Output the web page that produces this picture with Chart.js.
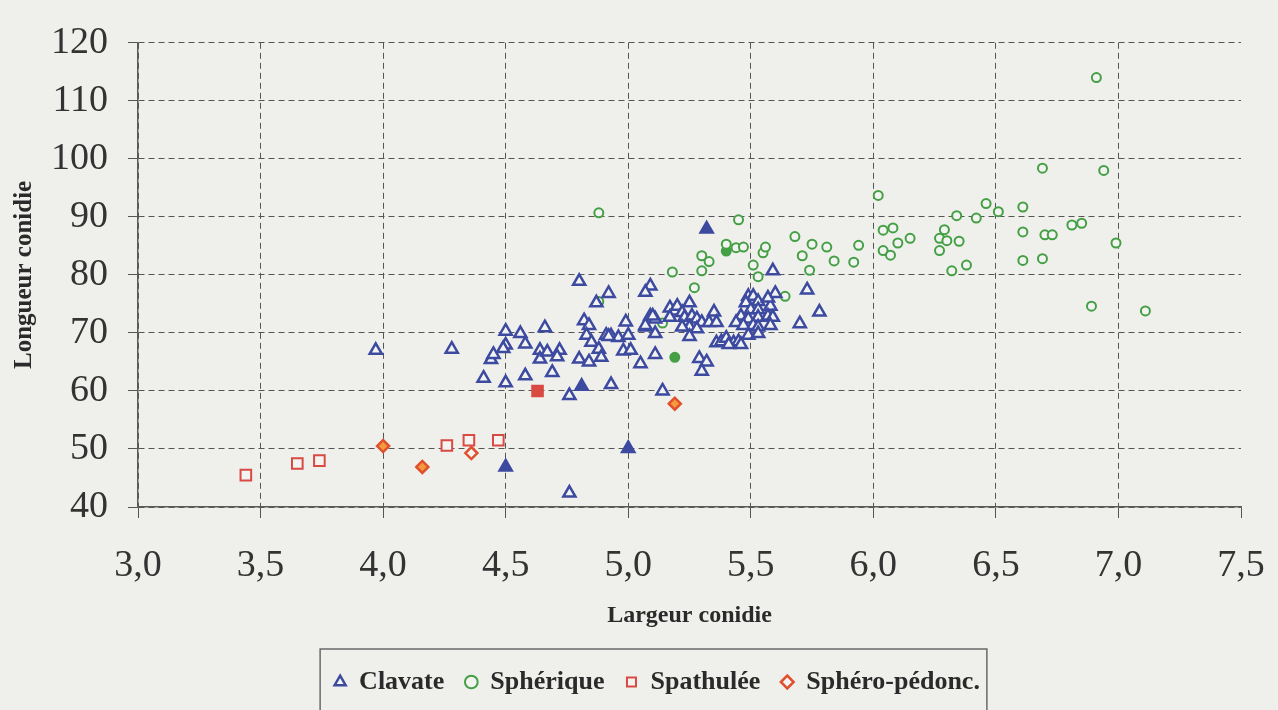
<!DOCTYPE html>
<html lang="fr">
<head>
<meta charset="utf-8">
<title>Longueur et largeur des conidies</title>
<script src="https://cdn.jsdelivr.net/npm/chart.js@4.4.1/dist/chart.umd.min.js"></script>
<style>
  html, body { margin: 0; padding: 0; background: #efefec; }
  #wrap { width: 1278px; height: 710px; position: relative; }
</style>
</head>
<body>
<div id="wrap"><canvas id="conidieChart"></canvas></div>
<script>
// axis ticks
const xTicks = [3.0, 3.5, 4.0, 4.5, 5.0, 5.5, 6.0, 6.5, 7.0, 7.5];
const yTicks = [40, 50, 60, 70, 80, 90, 100, 110, 120];

const seriesNames = ['Clavate', 'Sphérique', 'Spathulée', 'Sphéro-pédonc.'];

// Clavate (largeur / longueur)
const clavateWidth = [
  3.97, 4.28, 4.41, 4.50, 4.58, 4.69, 4.76, 4.93, 4.44, 4.45,
  4.50, 4.50, 4.49, 4.56, 4.58, 4.66, 4.64, 4.64, 4.67, 4.72,
  4.71, 4.80, 4.84, 4.80, 4.92, 4.87, 4.82, 4.84, 4.83, 4.85,
  4.88, 4.89, 4.91, 4.93, 4.96, 4.99, 5.00, 4.98, 5.01, 5.05,
  4.76, 5.14, 5.09, 5.07, 5.25, 5.17, 5.19, 5.20, 5.22, 5.17,
  5.23, 5.26, 5.28, 5.30, 5.33, 5.25, 5.28, 5.22, 5.25, 5.35,
  5.36, 5.09, 5.11, 5.07, 5.11, 4.92, 5.11, 5.29, 5.32, 5.30,
  5.36, 5.38, 5.40, 5.43, 5.45, 5.46, 5.41, 5.49, 5.51, 5.53,
  5.48, 5.50, 5.53, 5.58, 5.60, 5.57, 5.46, 5.49, 5.53, 5.57,
  5.59, 5.44, 5.47, 5.51, 5.53, 5.58, 5.49, 5.53, 5.59, 5.73,
  5.78, 5.70, 5.07, 5.10
];
const clavateLength = [
  67.0, 67.2, 62.2, 61.4, 62.6, 63.2, 59.2, 61.1, 65.4, 66.3,
  70.3, 67.9, 67.3, 69.9, 68.1, 70.9, 67.0, 65.5, 66.7, 67.0,
  65.9, 65.5, 65.0, 78.9, 76.8, 75.2, 72.1, 71.3, 69.6, 68.4,
  67.2, 65.8, 69.6, 69.5, 69.2, 71.9, 69.6, 66.9, 67.0, 64.7,
  42.4, 60.0, 78.1, 77.0, 75.2, 74.3, 73.8, 74.6, 73.5, 72.7,
  72.7, 72.9, 72.4, 71.8, 71.8, 71.0, 70.7, 71.0, 69.4, 73.6,
  71.8, 72.9, 72.4, 71.0, 69.9, 69.4, 66.3, 65.6, 65.0, 63.4,
  68.3, 68.5, 69.1, 68.3, 68.5, 68.0, 68.0, 76.3, 76.3, 75.4,
  75.2, 74.0, 74.0, 74.6, 76.8, 76.0, 72.9, 72.4, 72.7, 72.9,
  72.7, 71.8, 71.3, 71.3, 71.0, 71.3, 69.6, 69.9, 80.7, 77.4,
  73.6, 71.6, 71.3, 72.9
];
const clavatePleinWidth = [5.32, 4.50, 4.81, 5.00];
const clavatePleinLength = [87.9, 46.9, 60.8, 50.1];

// Sphérique
const sphWidth = [
  6.91, 6.69, 6.94, 6.02, 6.46, 6.51, 6.61, 6.34, 6.42, 6.04,
  6.08, 6.15, 6.10, 6.04, 6.07, 6.29, 6.27, 6.30, 6.27, 6.35,
  6.38, 6.32, 6.61, 6.70, 6.73, 6.61, 6.69, 6.81, 6.85, 6.99,
  6.89, 7.11, 5.81, 5.84, 5.92, 5.94, 5.45, 5.40, 5.44, 5.47,
  5.30, 5.33, 5.18, 5.30, 5.27, 5.51, 5.53, 5.55, 5.56, 5.68,
  5.75, 5.71, 5.74, 5.64, 5.14, 4.88, 4.88
];
const sphLength = [
  114.0, 98.4, 98.0, 93.7, 92.3, 90.9, 91.7, 90.2, 89.8, 87.7,
  88.1, 86.3, 85.5, 84.2, 83.4, 87.8, 86.3, 85.9, 84.2, 85.8,
  81.7, 80.7, 87.4, 86.9, 86.9, 82.5, 82.8, 88.6, 88.9, 85.5,
  74.6, 73.8, 84.8, 82.4, 82.2, 85.1, 89.5, 85.3, 84.7, 84.8,
  83.3, 82.3, 80.5, 80.7, 77.8, 81.7, 79.7, 83.8, 84.8, 86.6,
  85.3, 83.3, 80.8, 76.3, 71.7, 90.7, 75.4
];
const sphPleinWidth = [5.40, 5.19];
const sphPleinLength = [84.1, 65.8];

// Spathulée
const spathWidth = [3.44, 3.65, 3.74, 4.26, 4.35, 4.47];
const spathLength = [45.5, 47.5, 48.0, 50.6, 51.5, 51.5];
const spathPleinWidth = [4.63];
const spathPleinLength = [60.0];

// Sphéro-pédonc.
const pedWidth = [4.36];
const pedLength = [49.3];
const pedPleinWidth = [4.00, 4.16, 5.19];
const pedPleinLength = [50.5, 46.9, 57.8];

const paper = '#f3f3f1';
const blue = '#3c4aa0';
const green = '#45a045';
const red = '#d84a42';
const orangeRed = '#e0502c';

function toPoints(xs, ys) {
  return xs.map((x, i) => ({ x: x, y: ys[i] }));
}

function fmtComma(v) {
  return v.toFixed(1).replace('.', ',');
}

// let the y axis box reach the left edge so the "120" labels are not clipped
const widenYAxis = {
  id: 'widenYAxis',
  afterLayout(chart) {
    const y = chart.scales.y;
    y.left = 0;
    y.width = y.right - y.left;
  }
};

// draws a frame around the legend like in the original figure
const legendFrame = {
  id: 'legendFrame',
  afterDraw(chart) {
    const lg = chart.legend;
    if (!lg || !lg.legendHitBoxes || !lg.legendHitBoxes.length) return;
    const boxes = lg.legendHitBoxes;
    const left = Math.min(...boxes.map(b => b.left)) - 14;
    const right = Math.max(...boxes.map(b => b.left + b.width)) + 7;
    const ctx = chart.ctx;
    ctx.save();
    ctx.strokeStyle = '#6a6a6a';
    ctx.lineWidth = 1.5;
    ctx.strokeRect(left, lg.top + 1, right - left, chart.height - lg.top + 10);
    ctx.restore();
  }
};

Chart.defaults.font.family = "'Liberation Serif', 'Times New Roman', serif";
Chart.defaults.color = '#333';

const ctx = document.getElementById('conidieChart').getContext('2d');
const conidieChart = new Chart(ctx, {
  type: 'scatter',
  data: {
    datasets: [
      {
        label: seriesNames[0],
        data: toPoints(clavateWidth, clavateLength),
        pointStyle: 'triangle',
        pointRadius: 7,
        borderColor: blue,
        backgroundColor: paper,
        pointBorderWidth: 2.5,
        borderWidth: 2.5
      },
      {
        label: seriesNames[1],
        data: toPoints(sphWidth, sphLength),
        pointStyle: 'circle',
        pointRadius: 4.5,
        borderColor: green,
        backgroundColor: paper,
        pointBorderWidth: 2,
        borderWidth: 2
      },
      {
        label: seriesNames[2],
        data: toPoints(spathWidth, spathLength),
        pointStyle: 'rect',
        pointRadius: 7.5,
        borderColor: red,
        backgroundColor: paper,
        pointBorderWidth: 2,
        borderWidth: 2
      },
      {
        label: seriesNames[3],
        data: toPoints(pedWidth, pedLength),
        pointStyle: 'rectRot',
        pointRadius: 6,
        borderColor: orangeRed,
        backgroundColor: paper,
        pointBorderWidth: 2.5,
        borderWidth: 2.5
      },
      {
        label: seriesNames[0] + ' (plein)',
        data: toPoints(clavatePleinWidth, clavatePleinLength),
        pointStyle: 'triangle',
        pointRadius: 7,
        borderColor: blue,
        backgroundColor: blue,
        pointBorderWidth: 2.5
      },
      {
        label: seriesNames[1] + ' (plein)',
        data: toPoints(sphPleinWidth, sphPleinLength),
        pointStyle: 'circle',
        pointRadius: 4.5,
        borderColor: green,
        backgroundColor: green,
        pointBorderWidth: 2
      },
      {
        label: seriesNames[2] + ' (plein)',
        data: toPoints(spathPleinWidth, spathPleinLength),
        pointStyle: 'rect',
        pointRadius: 7.5,
        borderColor: red,
        backgroundColor: red,
        pointBorderWidth: 2
      },
      {
        label: seriesNames[3] + ' (plein)',
        data: toPoints(pedPleinWidth, pedPleinLength),
        pointStyle: 'rectRot',
        pointRadius: 6,
        borderColor: orangeRed,
        backgroundColor: '#f39a3c',
        pointBorderWidth: 2.5
      }
    ]
  },
  options: {
    responsive: true,
    maintainAspectRatio: false,
    animation: false,
    layout: {
      padding: { top: 22, left: 73, right: 37, bottom: 5 }
    },
    plugins: {
      tooltip: { enabled: false },
      legend: {
        position: 'bottom',
        labels: {
          usePointStyle: true,
          boxWidth: 12,
          boxHeight: 9,
          padding: 21,
          color: '#2a2a2a',
          font: { size: 26, weight: 'bold' },
          filter: item => item.datasetIndex < seriesNames.length
        }
      }
    },
    scales: {
      x: {
        type: 'linear',
        min: xTicks[0],
        max: xTicks[xTicks.length - 1],
        afterFit: scale => {
          scale.height = 141;
          // the last label may spill into the layout padding
          scale.paddingLeft = 0;
          scale.paddingRight = 0;
        },
        afterBuildTicks: scale => { scale.ticks = xTicks.map(v => ({ value: v })); },
        ticks: {
          callback: v => fmtComma(v),
          font: { size: 38 },
          color: '#333',
          padding: 25,
          maxRotation: 0,
          autoSkip: false
        },
        grid: {
          color: c => (c.tick && c.tick.value === xTicks[xTicks.length - 1]) ? 'rgba(0,0,0,0)' : '#555',
          tickColor: '#555',
          tickLength: 11,
          tickBorderDash: [],
          lineWidth: 1
        },
        border: { color: '#5a5a5a', width: 1.5, dash: [6, 4] },
        title: {
          display: true,
          text: 'Largeur conidie',
          font: { size: 24, weight: 'bold' },
          color: '#2a2a2a',
          padding: { top: 0, bottom: 18 }
        }
      },
      y: {
        type: 'linear',
        min: yTicks[0],
        max: yTicks[yTicks.length - 1],
        afterFit: scale => { scale.width = 65; },
        afterBuildTicks: scale => { scale.ticks = yTicks.map(v => ({ value: v })); },
        ticks: {
          font: { size: 38 },
          color: '#333',
          padding: 20
        },
        grid: {
          color: '#555',
          tickColor: '#555',
          tickLength: 10,
          tickBorderDash: [],
          lineWidth: 1
        },
        border: { color: '#5a5a5a', width: 1.5, dash: [6, 4] },
        title: {
          display: true,
          text: 'Longueur conidie',
          font: { size: 25, weight: 'bold' },
          color: '#2a2a2a',
          padding: { top: 10, bottom: 0 }
        }
      }
    }
  },
  plugins: [widenYAxis, legendFrame]
});
</script>
</body>
</html>
